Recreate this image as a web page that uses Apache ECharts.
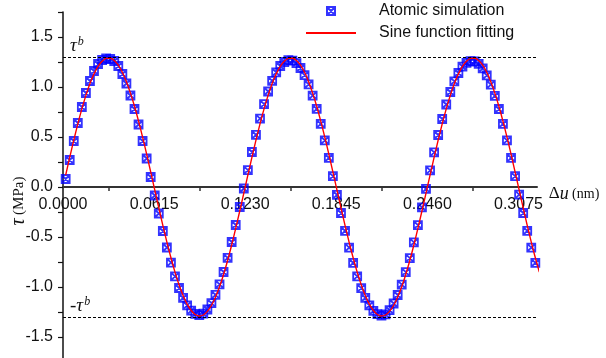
<!DOCTYPE html>
<html>
<head>
<meta charset="utf-8">
<script src="https://cdn.jsdelivr.net/npm/echarts@6/dist/echarts.min.js"></script>
<style>
  html, body { margin: 0; padding: 0; background: #fff; }
  #chart { width: 606px; height: 358px; }
</style>
</head>
<body>
<div id="chart"></div>
<script>
// displacement (nm) of every sample
const xs = [
  0.0018, 0.00453, 0.00727, 0.01, 0.01273, 0.01547, 0.0182, 0.02093, 0.02367, 0.0264,
  0.02913, 0.03187, 0.0346, 0.03733, 0.04007, 0.0428, 0.04553, 0.04827, 0.051, 0.05373,
  0.05647, 0.0592, 0.06193, 0.06467, 0.0674, 0.07013, 0.07287, 0.0756, 0.07833, 0.08107,
  0.0838, 0.08653, 0.08927, 0.092, 0.09473, 0.09747, 0.1002, 0.10293, 0.10567, 0.1084,
  0.11113, 0.11387, 0.1166, 0.11933, 0.12207, 0.1248, 0.12753, 0.13027, 0.133, 0.13573,
  0.13847, 0.1412, 0.14393, 0.14667, 0.1494, 0.15213, 0.15487, 0.1576, 0.16033, 0.16307,
  0.1658, 0.16853, 0.17127, 0.174, 0.17673, 0.17947, 0.1822, 0.18493, 0.18767, 0.1904,
  0.19313, 0.19587, 0.1986, 0.20133, 0.20407, 0.2068, 0.20953, 0.21227, 0.215, 0.21773,
  0.22047, 0.2232, 0.22593, 0.22867, 0.2314, 0.23413, 0.23687, 0.2396, 0.24233, 0.24507,
  0.2478, 0.25053, 0.25327, 0.256, 0.25873, 0.26147, 0.2642, 0.26693, 0.26967, 0.2724,
  0.27513, 0.27787, 0.2806, 0.28333, 0.28607, 0.2888, 0.29153, 0.29427, 0.297, 0.29973,
  0.30247, 0.3052, 0.30793, 0.31067, 0.3134, 0.31613, 0.31887, 0.3216
];

// atomic simulation shear stress (MPa)
const atomicTau = [
  0.08, 0.27, 0.46, 0.64, 0.80, 0.94, 1.06, 1.16, 1.23, 1.27, 1.285, 1.28, 1.26, 1.21, 1.13,
  1.035, 0.915, 0.78, 0.625, 0.46, 0.285, 0.10, -0.085, -0.265, -0.44, -0.605, -0.757, -0.893, -1.01, -1.108,
  -1.183, -1.236, -1.268, -1.282, -1.266, -1.225, -1.162, -1.078, -0.974, -0.85, -0.708, -0.55, -0.38, -0.2, -0.015,
  0.168, 0.35, 0.522, 0.683, 0.828, 0.955, 1.062, 1.146, 1.21, 1.25, 1.268, 1.264, 1.238, 1.19, 1.118,
  1.026, 0.913, 0.781, 0.631, 0.466, 0.291, 0.108, -0.078, -0.26, -0.438, -0.606, -0.758, -0.894, -1.011, -1.108,
  -1.184, -1.238, -1.272, -1.287, -1.274, -1.232, -1.165, -1.08, -0.976, -0.852, -0.711, -0.553, -0.382, -0.203, -0.018,
  0.166, 0.347, 0.52, 0.68, 0.825, 0.95, 1.056, 1.14, 1.203, 1.241, 1.258, 1.255, 1.232, 1.186, 1.116,
  1.024, 0.912, 0.78, 0.631, 0.467, 0.292, 0.109, -0.077, -0.26, -0.438, -0.606, -0.758, -0.892
];

// sine fitting curve (MPa)
const fitTau = [
  0.118, 0.296, 0.468, 0.631, 0.781, 0.916, 1.034, 1.131, 1.207, 1.258, 1.286, 1.288, 1.265, 1.218, 1.147,
  1.053, 0.939, 0.807, 0.659, 0.498, 0.328, 0.151, -0.029, -0.208, -0.383, -0.551, -0.708, -0.851, -0.977, -1.085,
  -1.172, -1.235, -1.275, -1.29, -1.28, -1.244, -1.185, -1.102, -0.998, -0.875, -0.735, -0.58, -0.414, -0.24, -0.061,
  0.118, 0.296, 0.468, 0.631, 0.781, 0.916, 1.034, 1.131, 1.207, 1.258, 1.286, 1.288, 1.265, 1.218, 1.147,
  1.053, 0.939, 0.807, 0.659, 0.498, 0.328, 0.151, -0.029, -0.208, -0.383, -0.551, -0.708, -0.851, -0.977, -1.085,
  -1.172, -1.235, -1.275, -1.29, -1.28, -1.244, -1.185, -1.102, -0.998, -0.875, -0.735, -0.58, -0.414, -0.24, -0.061,
  0.118, 0.296, 0.468, 0.631, 0.781, 0.916, 1.034, 1.131, 1.207, 1.258, 1.286, 1.288, 1.265, 1.218, 1.147,
  1.053, 0.939, 0.807, 0.659, 0.498, 0.328, 0.151, -0.029, -0.208, -0.383, -0.551, -0.708, -0.851
];

const xLabelValues = [0, 0.0615, 0.123, 0.1845, 0.246, 0.3075];
const xTickValues = [0.03075, 0.09225, 0.15375, 0.21525, 0.27675];
const tauB = 1.297;
const seriesNames = ["Atomic simulation", "Sine function fitting"];

const sans = "Liberation Sans";
const serif = "Liberation Serif";
const marker = "path://M0,0L10,0L10,10L0,10Z M0,0L10,10 M10,0L0,10";

const tauRich = {
  t: { fontFamily: serif, fontStyle: "italic", fontSize: 19, color: "#111", lineHeight: 20 },
  s: { fontFamily: serif, fontStyle: "italic", fontSize: 12, color: "#111", verticalAlign: "top", lineHeight: 20, padding: [0, 0, 8, 1] }
};

const chart = echarts.init(document.getElementById("chart"), null, { renderer: "canvas" });

chart.setOption({
  animation: false,
  backgroundColor: "#fff",
  grid: { left: 63, right: 69, top: 12, height: 350, containLabel: false, outerBoundsMode: "none" },
  legend: {
    orient: "vertical",
    left: 305,
    top: 2,
    padding: 0,
    itemWidth: 50,
    itemHeight: 8,
    itemGap: 4,
    data: seriesNames,
    textStyle: { fontFamily: sans, fontSize: 16, color: "#111", lineHeight: 18, padding: [0, 0, 0, 18] }
  },
  xAxis: {
    type: "value",
    min: 0,
    max: 0.32,
    position: "bottom",
    offset: -175,
    name: "{d|Δ}{u|u} {n|(nm)}",
    nameLocation: "end",
    nameGap: 10,
    nameTextStyle: {
      padding: [14, 0, 0, 0],
      rich: {
        d: { fontFamily: serif, fontSize: 17, color: "#111" },
        u: { fontFamily: serif, fontStyle: "italic", fontSize: 18, color: "#111" },
        n: { fontFamily: serif, fontSize: 14, color: "#111" }
      }
    },
    axisLine: { onZero: false, lineStyle: { color: "#333", width: 2 } },
    axisTick: { show: true, customValues: xTickValues, length: 4, lineStyle: { color: "#333", width: 1.5 } },
    axisLabel: {
      customValues: xLabelValues,
      formatter: (v) => v.toFixed(4),
      fontFamily: sans,
      fontSize: 16,
      color: "#111",
      margin: 10
    },
    splitLine: { show: false }
  },
  yAxis: {
    type: "value",
    min: -1.75,
    max: 1.75,
    interval: 0.25,
    name: "{t|τ} {m|(MPa)}",
    nameLocation: "middle",
    nameGap: 34,
    nameRotate: 90,
    nameMoveOverlap: false,
    nameTextStyle: {
      padding: [0, 28, 0, 0],
      rich: {
        t: { fontFamily: serif, fontStyle: "italic", fontSize: 20, color: "#111" },
        m: { fontFamily: serif, fontSize: 15, color: "#111" }
      }
    },
    axisLine: { show: true, onZero: false, lineStyle: { color: "#111", width: 1.5 } },
    axisTick: { show: true, length: 5, lineStyle: { color: "#111", width: 1.2 } },
    axisLabel: {
      formatter: (v) => (Math.abs(v * 2 - Math.round(v * 2)) < 1e-6 ? v.toFixed(1) : ""),
      fontFamily: sans,
      fontSize: 16,
      color: "#111",
      margin: 10
    },
    splitLine: { show: false }
  },
  series: [
    {
      name: seriesNames[0],
      type: "scatter",
      symbol: marker,
      symbolSize: 8,
      symbolKeepAspect: true,
      itemStyle: { color: "rgba(255,255,255,0)", borderColor: "#0000ff", borderWidth: 1.8 },
      data: xs.map((x, i) => [x, atomicTau[i]]),
      z: 2
    },
    {
      name: seriesNames[1],
      type: "line",
      smooth: 0.3,
      symbol: "none",
      lineStyle: { color: "#ff0000", width: 1.4 },
      // transparent item colour hides the dot that the legend icon would draw
      itemStyle: { color: "rgba(0,0,0,0)", borderWidth: 0 },
      data: xs.map((x, i) => [x, fitTau[i]]),
      z: 3,
      markLine: {
        silent: true,
        symbol: ["none", "none"],
        lineStyle: { color: "#000", type: [3, 2], width: 1 },
        label: { show: true, position: "insideStartTop", distance: [7, 1], rich: tauRich },
        data: [
          { yAxis: tauB, label: { formatter: "{t|τ}{s|b}" } },
          { yAxis: -tauB, label: { formatter: "{t|-τ}{s|b}" } }
        ]
      }
    }
  ]
});
</script>
</body>
</html>
